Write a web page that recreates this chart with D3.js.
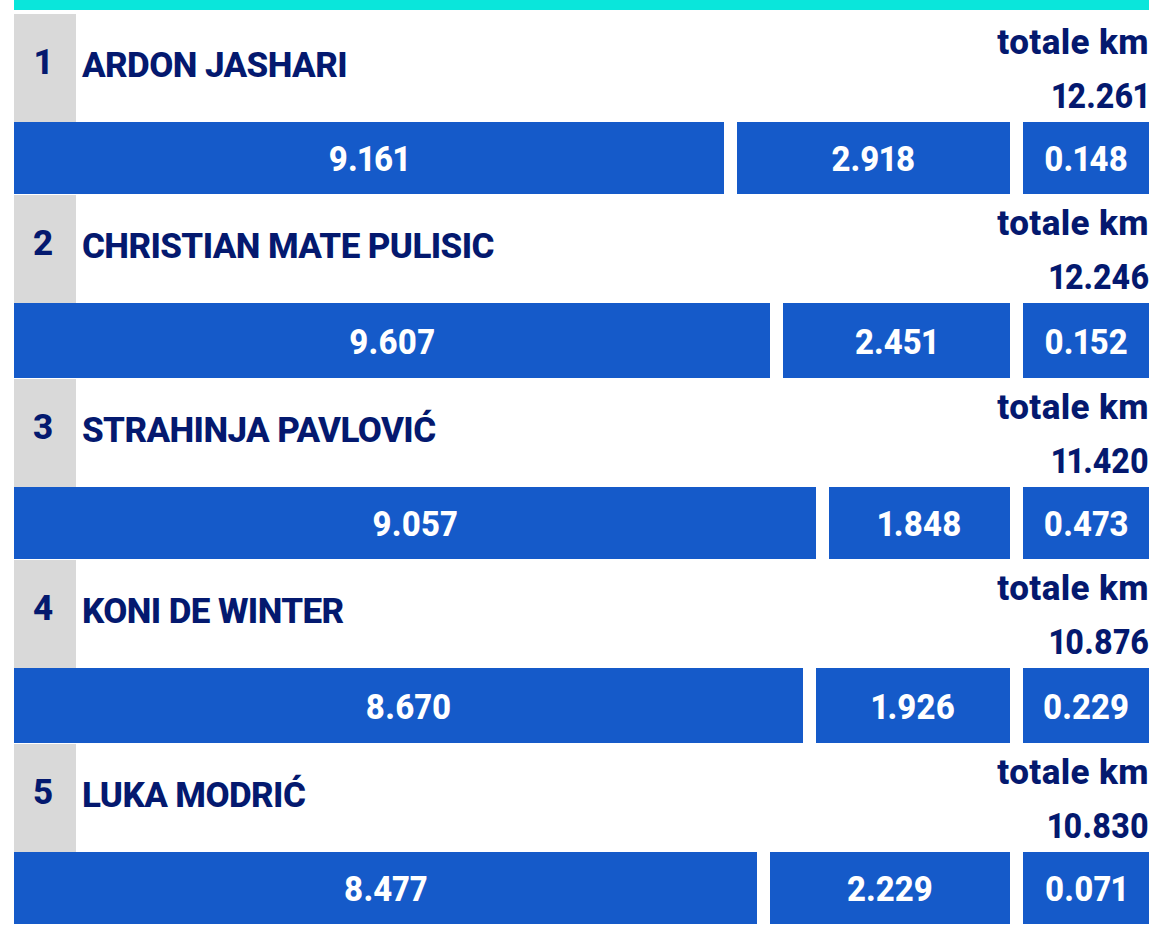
<!DOCTYPE html>
<html>
<head>
<meta charset="utf-8">
<script src="https://cdn.jsdelivr.net/npm/d3@7"></script>
<style>
  html, body { margin: 0; padding: 0; background: #fff; }
  text { font-family: Roboto, "Noto Sans", sans-serif; font-weight: 800; font-variant-numeric: proportional-nums; }
</style>
</head>
<body>
<svg id="chart" width="1170" height="943"></svg>
<script>
var ranks = [1, 2, 3, 4, 5];
var players = ["ARDON JASHARI", "CHRISTIAN MATE PULISIC", "STRAHINJA PAVLOVIĆ", "KONI DE WINTER", "LUKA MODRIĆ"];
var totals = ["12.261", "12.246", "11.420", "10.876", "10.830"];
var first = [9.161, 9.607, 9.057, 8.670, 8.477];
var second = [2.918, 2.451, 1.848, 1.926, 2.229];
var third = [0.148, 0.152, 0.473, 0.229, 0.071];

var navy = "#04196f", blue = "#155ac9", grey = "#d9d9d9", teal = "#0ae6db";

var svg = d3.select("#chart");

// rows are not evenly spaced in the picture, so piecewise scales on the rank
var rowTop = d3.scaleLinear().domain(ranks).range([14, 195, 379, 560, 744]);
var barTop = d3.scaleLinear().domain(ranks).range([122, 303, 487, 668, 852]);
var barBottom = d3.scaleLinear().domain(ranks).range([194, 378, 559, 743, 924]);

// the first bar is not to one scale across rows, its end is read off per value
var firstSorted = first.slice().sort(d3.ascending);
var firstEnd = d3.scaleLinear().domain(firstSorted).range([757, 803, 816, 724, 770]);

var leftEdge = 14, secondEnd = 1010, thirdStart = 1023, rightEdge = 1149, gap = 13;

svg.append("rect")
  .attr("x", leftEdge).attr("y", 0)
  .attr("width", rightEdge - leftEdge).attr("height", 10)
  .attr("fill", teal);

var rows = svg.selectAll("g.row").data(players).join("g").attr("class", "row");

rows.append("rect")
  .attr("x", leftEdge).attr("width", 62)
  .attr("y", (d, i) => rowTop(ranks[i]))
  .attr("height", (d, i) => barTop(ranks[i]) - rowTop(ranks[i]))
  .attr("fill", grey);

rows.append("text")
  .attr("x", 43).attr("y", (d, i) => rowTop(ranks[i]) + 60)
  .attr("text-anchor", "middle")
  .attr("font-size", 35).attr("fill", navy)
  .text((d, i) => ranks[i]);

rows.append("text")
  .attr("x", 82).attr("y", (d, i) => rowTop(ranks[i]) + 63)
  .attr("font-size", 35).attr("letter-spacing", -0.6).attr("fill", navy)
  .text(d => d);

rows.append("text")
  .attr("x", 1149).attr("y", (d, i) => rowTop(ranks[i]) + 39.5)
  .attr("text-anchor", "end")
  .attr("font-size", 35).attr("letter-spacing", 0.4).attr("fill", navy)
  .text("totale km");

// digits in the picture are narrower than Roboto's, squeeze them a bit
rows.append("text")
  .attr("transform", (d, i) => "translate(1149," + (barTop(ranks[i]) - 14.5) + ") scale(0.92,1)")
  .attr("text-anchor", "end")
  .attr("font-size", 35).attr("fill", navy)
  .text((d, i) => totals[i]);

var segs = [];
players.forEach(function(p, i) {
  var end = firstEnd(first[i]);
  segs.push({rank: ranks[i], x0: leftEdge, x1: end, v: first[i]});
  segs.push({rank: ranks[i], x0: end + gap, x1: secondEnd, v: second[i]});
  segs.push({rank: ranks[i], x0: thirdStart, x1: rightEdge, v: third[i]});
});

svg.selectAll("rect.seg").data(segs).join("rect")
  .attr("class", "seg")
  .attr("x", d => d.x0)
  .attr("width", d => d.x1 - d.x0)
  .attr("y", d => barTop(d.rank))
  .attr("height", d => barBottom(d.rank) - barTop(d.rank))
  .attr("fill", blue);

svg.selectAll("text.seg").data(segs).join("text")
  .attr("class", "seg")
  .attr("transform", d => "translate(" + (d.x0 + d.x1) / 2 + "," + ((barTop(d.rank) + barBottom(d.rank)) / 2 + 13) + ") scale(0.94,1)")
  .attr("text-anchor", "middle")
  .attr("font-size", 35).attr("fill", "#fff")
  .text(d => d.v.toFixed(3));
</script>
</body>
</html>
